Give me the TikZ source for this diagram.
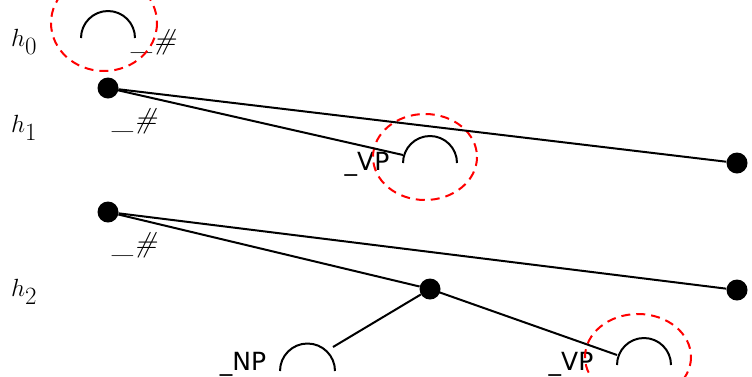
\documentclass[tikz,border=0pt]{standalone}
\usepackage{fontspec}
\newfontfamily\dejavu{DejaVu Sans}
\tikzset{
  edge/.style={line width=2pt, black},
  dotnode/.style={circle, fill=black, inner sep=0pt, minimum size=21pt},
  hlab/.style={font=\fontsize{34}{38}\selectfont},
  seplab/.style={font=\fontsize{29}{32}\selectfont\itshape},
  catlab/.style={font=\fontsize{25}{29}\selectfont\dejavu},
  focus/.style={red, line width=2pt, dash pattern=on 9pt off 6pt},
  arcline/.style={line width=2pt}
}
\begin{document}
\begin{tikzpicture}[x=1pt,y=-1pt]
\useasboundingbox (0,0) rectangle (752,376);
\clip (0,0) rectangle (752,376);
% row labels
\node[hlab] (h0) at (24,42) {$h_0$};
\node[hlab] (h1) at (24,128) {$h_1$};
\node[hlab] (h2) at (24,292) {$h_2$};
% h0
\draw[arcline] (81,38) arc[start angle=180,end angle=360,radius=27];
\node[seplab] (s0) at (154,42) {\_\#};
\draw[focus] (104,23) ellipse[x radius=53, y radius=48];
% h1
\node[dotnode] (a) at (108,88) {};
\node[seplab] (s1) at (135,121) {\_\#};
\node[dotnode] (b) at (737,163) {};
\coordinate (vp1) at (403,155);
\draw[arcline] (403,163) arc[start angle=180,end angle=360,radius=27];
\node[catlab] (l1) at (367,164) {\_VP};
\draw[focus] (425,157) ellipse[x radius=52, y radius=43];
\draw[edge] (a) -- (b);
\draw[edge] (a.center) -- (vp1);
% h2
\node[dotnode] (c) at (108,212) {};
\node[seplab] (s2) at (135,245) {\_\#};
\node[dotnode] (d) at (737,290) {};
\node[dotnode] (e) at (430,289) {};
\draw[edge] (c) -- (d);
\draw[edge] (c) -- (e);
\draw[arcline] (280,371) arc[start angle=180,end angle=360,radius=27.5];
\coordinate (np) at (333,347);
\node[catlab] (l2) at (243,364) {\_NP};
\draw[arcline] (617,365) arc[start angle=180,end angle=360,radius=27];
\coordinate (vp2) at (617,355);
\node[catlab] (l3) at (571,364) {\_VP};
\draw[focus] (638,357) ellipse[x radius=53, y radius=43];
\draw[edge] (e) -- (np);
\draw[edge] (e.center) -- (vp2);
\end{tikzpicture}
\end{document}
